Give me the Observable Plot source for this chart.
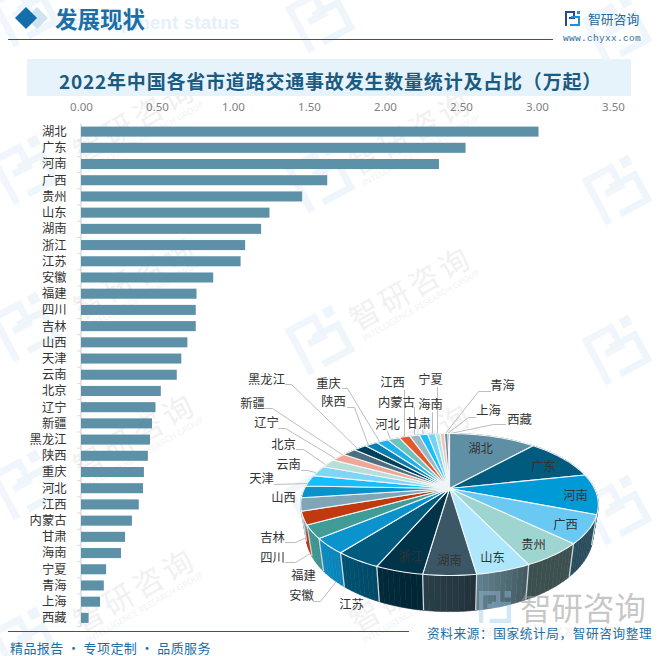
<!DOCTYPE html>
<html lang="zh">
<head>
<meta charset="utf-8">
<script src="https://cdn.jsdelivr.net/npm/d3@7"></script>
<script src="https://cdn.jsdelivr.net/npm/@observablehq/plot@0.6"></script>
<style>
html,body{margin:0;padding:0;background:#fff;}
#page{position:relative;width:667px;height:656px;overflow:hidden;font-family:"Noto Sans CJK SC","Noto Sans",sans-serif;}
#page>*{position:absolute;}
#page svg{display:block;background:transparent;}
.t{white-space:nowrap;line-height:1;}
</style>
</head>
<body>
<div id="page"></div>
<script>
// ---- data ----
const provinces = ["湖北","广东","河南","广西","贵州","山东","湖南","浙江","江苏","安徽","福建","四川","吉林","山西","天津","云南","北京","辽宁","新疆","黑龙江","陕西","重庆","河北","江西","内蒙古","甘肃","海南","宁夏","青海","上海","西藏"];
const accidents = [3.01,2.53,2.355,1.62,1.455,1.24,1.185,1.08,1.05,0.87,0.76,0.755,0.755,0.70,0.66,0.63,0.525,0.49,0.467,0.454,0.44,0.414,0.408,0.38,0.335,0.29,0.263,0.165,0.15,0.125,0.05];
const sliceColors = ["#5F8FA5","#005B7F","#009BD6","#69C9F2","#9FD5D1","#AEE6FB","#3B5766","#013449","#005B7F","#0B93CE","#3F9C97","#C0390F","#7FA6B8","#0A93CB","#15BFFF","#7FD5F5","#B5DFD8","#EFA697","#4C6F80","#01405A","#0A7FAD","#1FB0EE","#6DC2BE","#E25A2C","#98B8C7","#1ABEFF","#73D3F5","#B2E6E0","#F5C2B5","#6F8B99","#2F5063"];
const xTicks = [0,0.5,1,1.5,2,2.5,3,3.5];

// ---- pie labels layout (page pixels) ----
const insideLabels = {湖北:[480,449],广东:[543,467],河南:[575,496],广西:[565,525],贵州:[533,545],山东:[492,558],湖南:[449,561],浙江:[410,557]};
const outsideLabels = {黑龙江:[266,380],重庆:[328,384],陕西:[333,402],河北:[387,425],江西:[392,383],内蒙古:[396,403],甘肃:[418,424],海南:[430,405],宁夏:[430,380],青海:[502,386],上海:[488,411],西藏:[519,420],新疆:[252,404],辽宁:[266,423],北京:[283,445],云南:[288,465],天津:[261,479],山西:[283,498],吉林:[272,538],四川:[272,558],福建:[303,576],安徽:[301,596],江苏:[351,605]};
const leaders = {
  黑龙江:[[285,384],[291,384],[357,448]], 重庆:[[342,388],[347,388],[379,441]], 陕西:[[347,407],[354,407],[368,445]],
  河北:[[387,431],[390,439]], 江西:[[404,390],[404,437]], 内蒙古:[[414,407],[414,436]], 甘肃:[[422,430],[423,435]],
  海南:[[432,412],[432,434]], 宁夏:[[437,387],[437,433]], 青海:[[490,391],[478,391],[445,433]], 上海:[[475,417],[468,417],[447,433]],
  西藏:[[505,424],[493,424],[450,433]], 新疆:[[265,408],[272,408],[343,455]], 辽宁:[[278,428],[285,428],[335,458]],
  北京:[[296,449],[303,449],[325,464]], 云南:[[301,470],[307,470],[315,472]], 天津:[[274,484],[307,483]],
  吉林:[[285,542],[295,542],[304,538]], 四川:[[285,562],[295,562],[310,553]], 安徽:[[313,601],[320,601],[335,582]]
};

const page = document.getElementById("page");
function el(html){const d=document.createElement("div");d.innerHTML=html.trim();const n=d.firstChild;page.appendChild(n);return n;}
function text(str,x,cy,css){return el(`<div class="t" style="left:${x}px;top:${cy}px;transform:translateY(-50%);${css}">${str}</div>`);}

// ---- logo symbol ----
const logoPaths = (a,b)=>`<path fill="${a}" d="M0 0H10V8H4V6H8V2H2V15H0Z"/><path fill="${b}" d="M12 0H15V3H12ZM15 5V15H5V13H13V7H6V5Z"/>`;

// ---- watermarks (background) ----
let wm = `<svg width="667" height="656" style="position:absolute;left:0;top:0">`;
for (const [x,y] of [[25,12],[25,170],[25,327],[25,485],[25,642],[320,18],[320,178],[320,340],[320,500],[617,30],[617,190],[617,350],[617,510]]) {
  wm += `<g transform="translate(${x},${y}) rotate(-28) scale(3.5) translate(-7.5,-7.5)">${logoPaths("#f0f6fb","#eef6fb")}</g>`;
}
for (const [x,y] of [[135,120],[135,277],[135,435],[135,590],[411,133],[411,288],[411,445],[411,590]]) {
  wm += `<g transform="translate(${x},${y}) rotate(-30)"><text text-anchor="middle" y="11" font-size="30" letter-spacing="4" fill="#f1f1f1" font-family="Noto Sans CJK SC">智研咨询</text><text text-anchor="middle" y="23" font-size="8.5" fill="#f2f2f2" font-family="Noto Sans">INTELLIGENCE RESEARCH GROUP</text></g>`;
}
wm += `</svg>`;
el(wm);

// ---- header ----
text("Development status",59,23,"font:700 19px 'Liberation Sans';color:#e4f1fa;");
el(`<svg width="60" height="36" style="left:8px;top:0"><path d="M29 7L40 18L29 29L18 18Z" fill="#cfe3f0"/><path d="M18 7L29 18L18 29L7 18Z" fill="#136fab"/></svg>`);
text("发展现状",55,18,"font:700 22.5px 'Noto Sans CJK SC';color:#1b6ea6;");
el(`<div style="left:8px;top:39px;width:545px;height:1px;background:#1b5f85"></div>`);
el(`<svg width="15" height="15" style="left:565px;top:11px">${logoPaths("#2b4a8c","#1f8fd8")}</svg>`);
text("智研咨询",588,18,"font:400 12.8px 'Noto Sans CJK SC';color:#1d6a9c;");
text("www.chyxx.com",563,38,"font:400 9.5px 'Liberation Mono';color:#2a6f9e;letter-spacing:0.3px;");
el(`<div style="left:27px;top:59px;width:604px;height:37px;background:#e6f3fb"></div>`);
text("2022年中国各省市道路交通事故发生数量统计及占比（万起）",59,80,"font:700 19px 'Noto Sans CJK SC';color:#1c5a80;letter-spacing:.8px;");

// ---- bars ----
const rows = provinces.map((name,i)=>({name,value:accidents[i]}));
const bars = Plot.plot({
  width:667,height:656,marginLeft:81,marginRight:54,marginTop:123.5,marginBottom:30,
  style:{background:"transparent",fontFamily:"'Noto Sans CJK SC'"},
  x:{domain:[0,3.5]},
  y:{domain:provinces,paddingInner:0.38,paddingOuter:0.19,round:false},
  marks:[
    Plot.ruleX([0],{stroke:"#dcdcdc",strokeWidth:1.5,dx:-0.5}),
    Plot.ruleY(provinces,{y:d=>d,x1:0,x2:0,insetLeft:-4,dy:8.1,stroke:"#dcdcdc"}),
    Plot.barX(rows,{x:"value",y:"name",fill:"#5d91a7"}),
    Plot.axisX({anchor:"top",ticks:xTicks,tickSize:0,tickPadding:13,tickFormat:d3.format(".2f"),fontSize:11.5,fill:"#7f7f7f",label:null,fontFamily:"'Noto Sans'"}),
    Plot.axisY({anchor:"left",tickSize:0,tickPadding:15,fontSize:12.3,fill:"#333",label:null})
  ]
});
bars.style.left="0";bars.style.top="0";page.appendChild(bars);

// ---- pie (perspective disc) ----
const k = 0.225, depth = 28/67.4, bottomScale = 0.965;
const total = d3.sum(accidents);
const rim = a => {const u=Math.sin(a),v=Math.cos(a),w=1+k*v;return {x:u/w,y:v/w,w};};
const xU = px=>(px-449)/145, yU = py=>(488-py)/67.4;
const base = rim => ({x:rim.x*bottomScale,y:rim.y-depth/rim.w});
const lightFor = ux => ux>0 ? Math.max(0.38,0.66-0.5*ux) : 0.66-0.3*ux;
let cum = 0;
const faces=[],walls=[],edges=[];
provinces.forEach((name,i)=>{
  const a0=cum/total*2*Math.PI; cum+=accidents[i]; const a1=cum/total*2*Math.PI;
  const n=Math.max(2,Math.ceil((a1-a0)/(Math.PI/90)));
  const angles=d3.range(n+1).map(j=>a0+(a1-a0)*j/n);
  faces.push({id:name,x:0,y:0,c:sliceColors[i]});
  for(const a of angles){const p=rim(a);faces.push({id:name,x:p.x,y:p.y,c:sliceColors[i]});}
  faces.push({id:name,x:0,y:0,c:sliceColors[i]});
  const rgb=d3.rgb(sliceColors[i]);
  for(let j=0;j<n;j++){
    const p=rim(angles[j]),q=rim(angles[j+1]),pb=base(p),qb=base(q);
    const f=lightFor((p.x+q.x)/2);
    const c=d3.rgb(rgb.r*f,rgb.g*f,rgb.b*f).formatHex();
    const id=name+"/"+j;
    for(const d of [p,q,qb,pb,p]) walls.push({id,x:d.x,y:d.y,c});
  }
  const p=rim(a0),b=base(p);
  edges.push({x1:p.x,y1:p.y,x2:b.x,y2:b.y});
});
const leaderRows=Object.entries(leaders).flatMap(([id,pts])=>pts.map(([x,y])=>({id,x:xU(x),y:yU(y)})));
const inRows=Object.entries(insideLabels).map(([t,[x,y]])=>({t,x:xU(x),y:yU(y)}));
const outRows=Object.entries(outsideLabels).map(([t,[x,y]])=>({t,x:xU(x),y:yU(y)}));

const pie = Plot.plot({
  width:667,height:656,margin:0,
  style:{background:"transparent",fontFamily:"'Noto Sans CJK SC'"},
  x:{domain:[-1,1],range:[449-145,449+145],axis:null},
  y:{domain:[-1,1],range:[488+67.4,488-67.4],axis:null},
  color:{type:"identity"},
  marks:[
    Plot.line(leaderRows,{x:"x",y:"y",z:"id",stroke:"#bdbdbd",strokeWidth:1}),
    Plot.line(walls,{x:"x",y:"y",z:"id",fill:"c",stroke:"c",strokeWidth:0.6}),
    Plot.link(edges,{x1:"x1",y1:"y1",x2:"x2",y2:"y2",stroke:"#cfd6da",strokeWidth:1.3}),
    Plot.line(faces,{x:"x",y:"y",z:"id",fill:"c",stroke:"#f2f6f8",strokeWidth:1.1}),
    Plot.text(inRows,{x:"x",y:"y",text:"t",fontSize:12.3,fill:"#333"}),
    Plot.text(outRows,{x:"x",y:"y",text:"t",fontSize:12.3,fill:"#333"})
  ]
});
pie.style.left="0";pie.style.top="0";page.appendChild(pie);

// ---- bottom-right stamp over the pie ----
el(`<svg width="32" height="32" viewBox="0 0 15 15" style="left:479px;top:591px;opacity:.4">${logoPaths("#9dbfdc","#8cc7ee")}</svg>`);
text("智研咨询",520,606,"font:400 31.5px 'Noto Sans CJK SC';color:rgba(150,150,150,.55);");
text("www.chyxx.com",482,631,"font:400 17px 'Liberation Mono';color:#f0f0f0;");

// ---- footer ----
el(`<div style="left:8px;top:631px;width:401px;height:1px;background:#1b5f85"></div>`);
text("精品报告&nbsp;·&nbsp;专项定制&nbsp;·&nbsp;品质服务",10,647,"font:400 13px 'Noto Sans CJK SC';color:#1c6ea4;letter-spacing:.4px;");
text("资料来源：国家统计局，智研咨询整理",427,632,"font:400 12.6px 'Noto Sans CJK SC';color:#1c6ea4;letter-spacing:.65px;");
</script>
</body>
</html>
